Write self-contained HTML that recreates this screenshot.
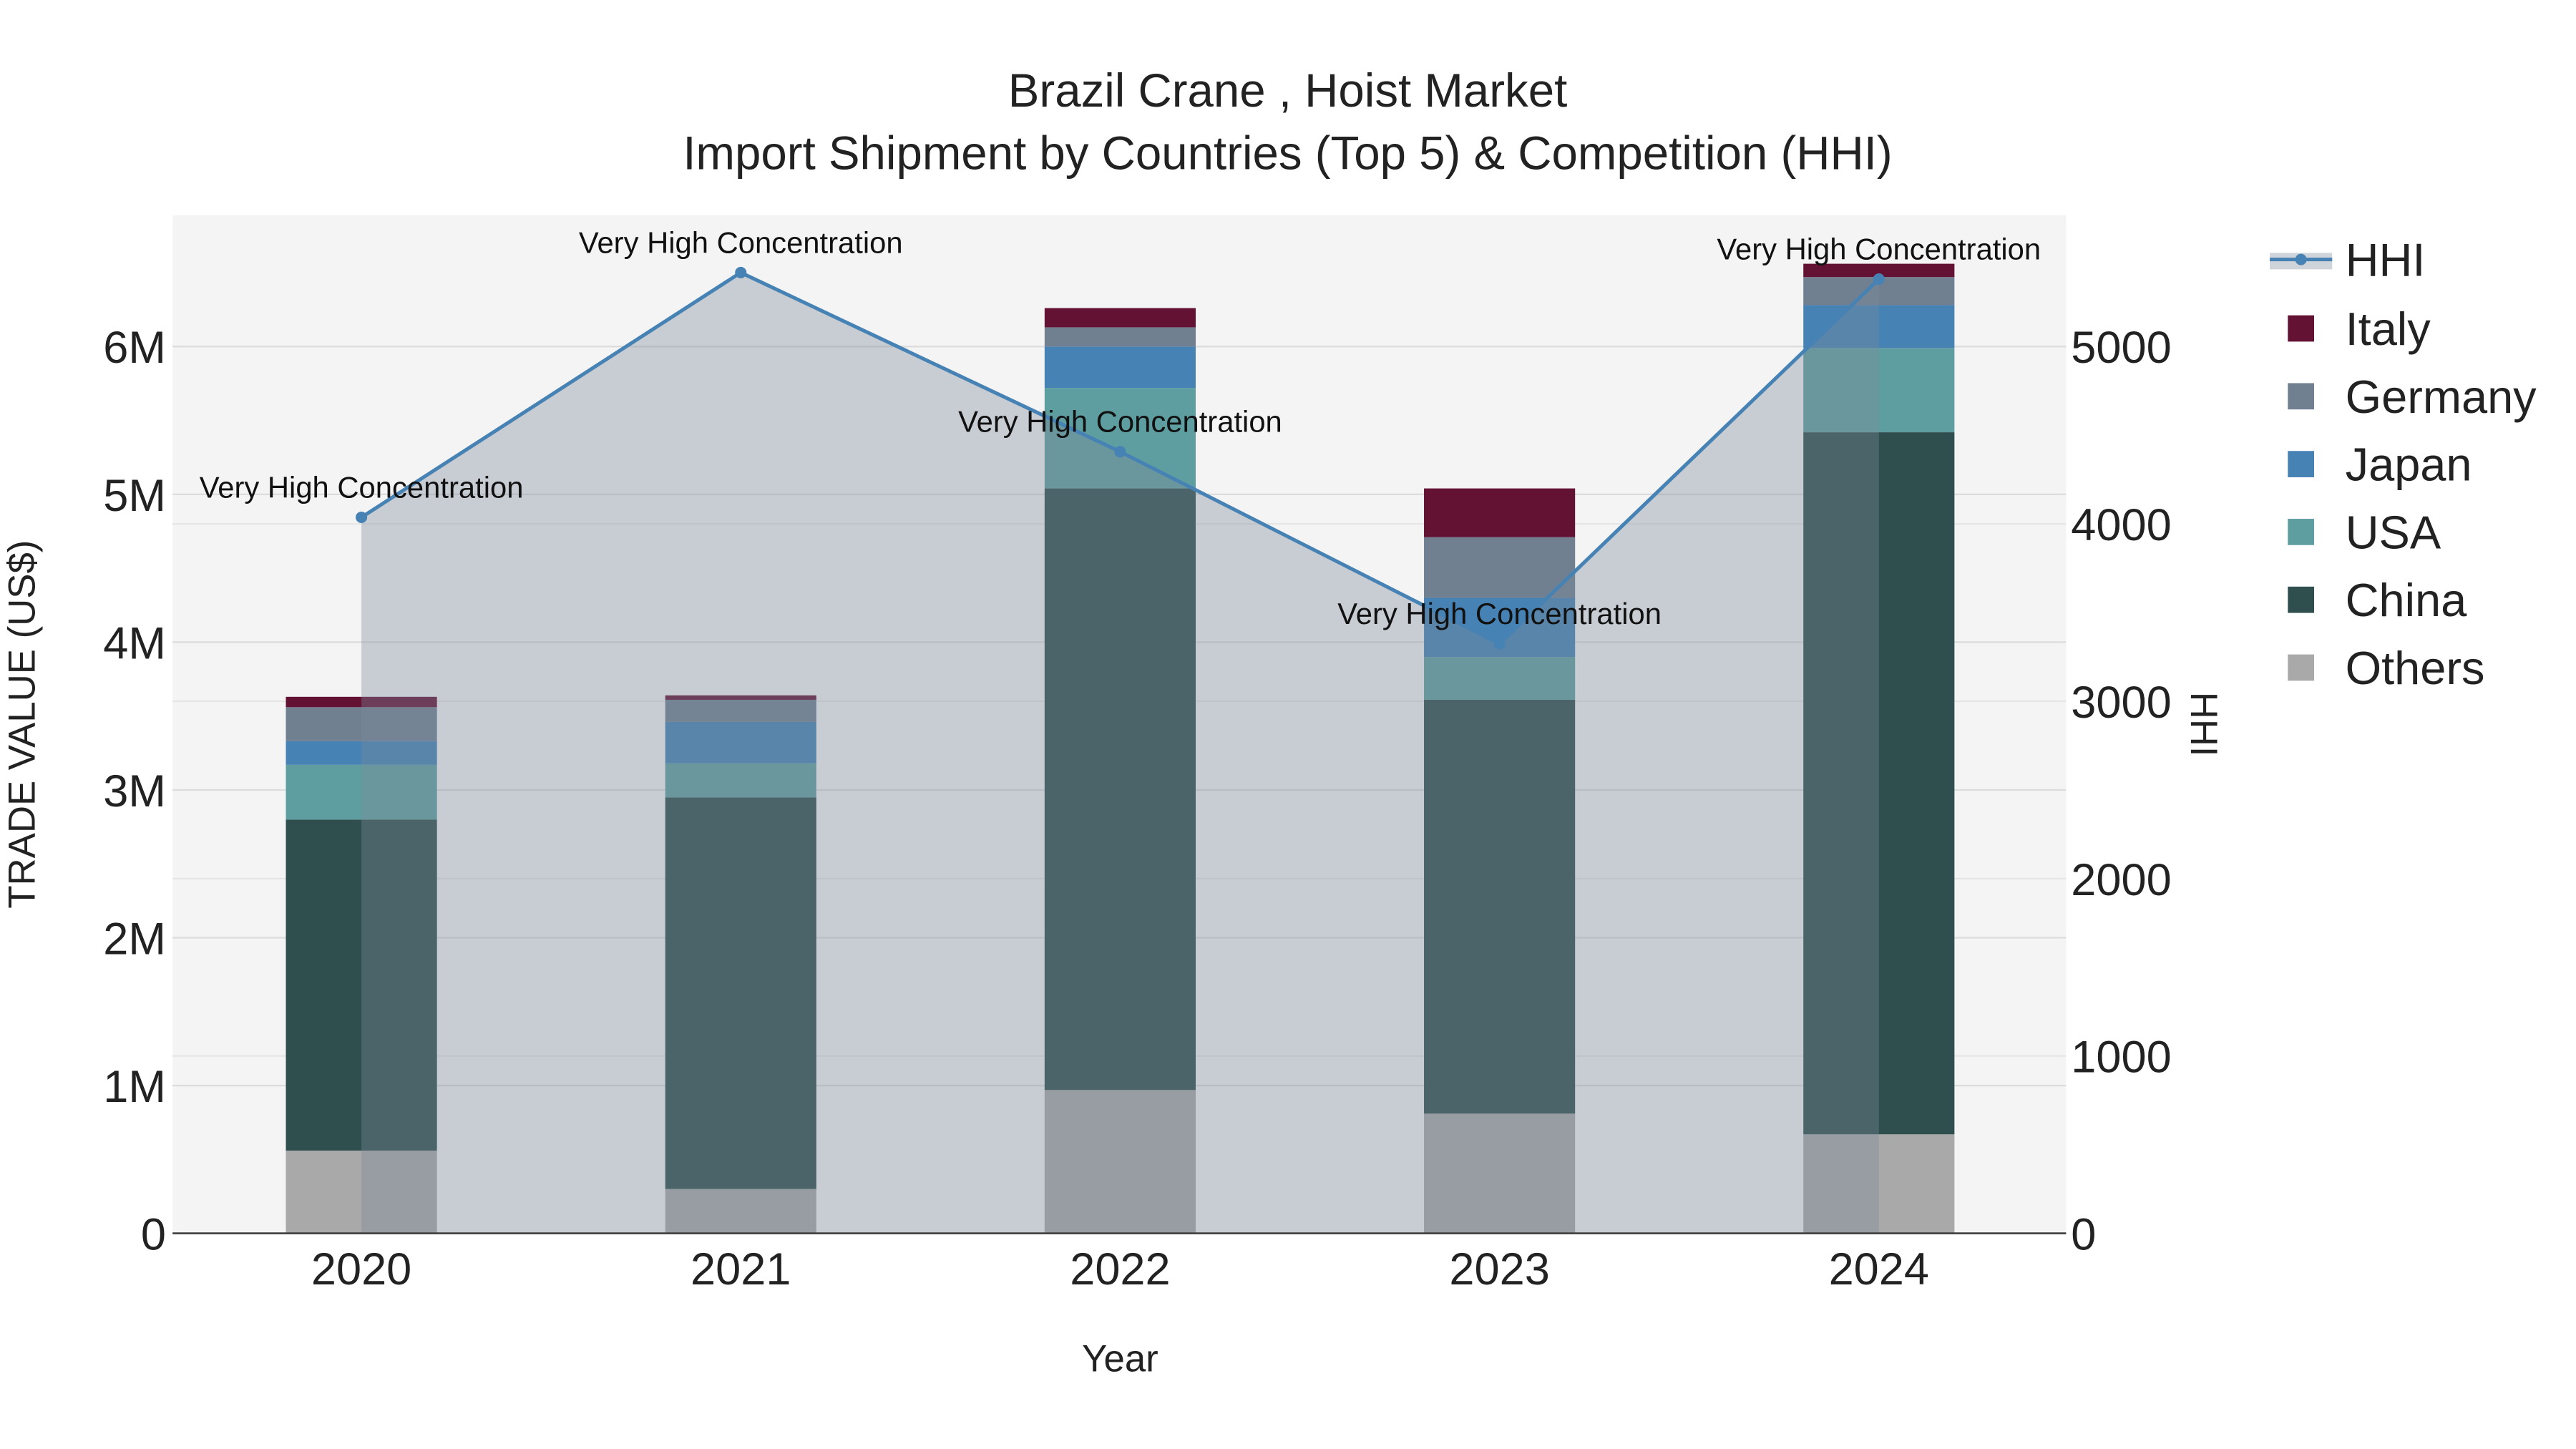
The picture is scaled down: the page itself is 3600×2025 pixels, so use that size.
<!DOCTYPE html>
<html><head><meta charset="utf-8"><style>html,body{margin:0;padding:0;background:#fff}svg{display:block}text{font-family:"Liberation Sans",Arial,sans-serif}</style></head>
<body>
<svg id="chart" width="3600" height="2025" viewBox="0 0 1568.4 882.3" xmlns="http://www.w3.org/2000/svg">
<rect x="0" y="0" width="1600" height="900" fill="#fff"/>
<rect x="105" y="131" width="1153" height="620" fill="#f4f4f4"/>
<g id="grid"></g>
<g id="bars"></g>
<g id="hhi"></g>
<g id="axes"></g>
<text x="784" y="65" text-anchor="middle" font-size="28.5" fill="#222">Brazil Crane , Hoist Market</text>
<text x="784" y="103" text-anchor="middle" font-size="28.5" fill="#222">Import Shipment by Countries (Top 5) &amp; Competition (HHI)</text>
<text x="682" y="835" text-anchor="middle" font-size="23" fill="#222">Year</text>
<text transform="translate(21,441) rotate(-90)" text-anchor="middle" font-size="23" fill="#222">TRADE VALUE (US$)</text>
<text transform="translate(1334,441) rotate(90)" text-anchor="middle" font-size="23" fill="#222">HHI</text>
<g id="legend"></g>
</svg>
<script>
const years = ["2020","2021","2022","2023","2024"];
const seriesNames = ["Others","China","USA","Japan","Germany","Italy"];
const others  = [0.56, 0.30, 0.97, 0.81, 0.67];
const china   = [2.24, 2.65, 4.07, 2.80, 4.75];
const usa     = [0.37, 0.23, 0.68, 0.29, 0.57];
const japan   = [0.16, 0.28, 0.28, 0.40, 0.29];
const germany = [0.23, 0.15, 0.13, 0.41, 0.19];
const italy   = [0.07, 0.03, 0.13, 0.33, 0.09];
const hhi = [4037, 5417, 4407, 3324, 5380];
const hhiLabels = ["Very High Concentration","Very High Concentration","Very High Concentration","Very High Concentration","Very High Concentration"];
const yTicks = [0,1,2,3,4,5,6];
const yTickLabels = ["0","1M","2M","3M","4M","5M","6M"];
const y2Ticks = [0,1000,2000,3000,4000,5000];
const colors = {Others:"#a9a9a9",China:"#2f4f4f",USA:"#5f9ea0",Japan:"#4682b4",Germany:"#708090",Italy:"#641233"};
const NS="http://www.w3.org/2000/svg";
const X0=105,X1=1258,Y0=751,YT=131;
const xs = i => 220 + i*231;
const ys = v => Y0 - v*90;
const y2s = v => Y0 - v*0.108;
function mk(tag, attrs, parent){const e=document.createElementNS(NS,tag);for(const k in attrs)e.setAttribute(k,attrs[k]);parent.appendChild(e);return e;}
const grid=document.getElementById('grid'),bars=document.getElementById('bars'),hg=document.getElementById('hhi'),axes=document.getElementById('axes'),lg=document.getElementById('legend');
y2Ticks.forEach(t=>{if(t===0)return;const l=mk('line',{x1:X0,x2:X1,y1:y2s(t),y2:y2s(t),stroke:"#e6e6e6","stroke-width":1},grid);

});
yTicks.forEach((t,i)=>{if(t>0){const l=mk('line',{x1:X0,x2:X1,y1:ys(t),y2:ys(t),stroke:"#dcdcdc","stroke-width":1},grid);

}
const tx=mk('text',{x:101,y:ys(t)+10,"text-anchor":"end","font-size":27.5,fill:"#222"},axes);tx.textContent=yTickLabels[i];

});
y2Ticks.forEach(t=>{const tx=mk('text',{x:1261,y:y2s(t)+10,"font-size":27.5,fill:"#222"},axes);tx.textContent=String(t);

});
const data={Others:others,China:china,USA:usa,Japan:japan,Germany:germany,Italy:italy};
years.forEach((yr,i)=>{let base=0;seriesNames.forEach(s=>{const v=data[s][i];const r=mk('rect',{x:xs(i)-46,width:92,y:ys(base+v),height:ys(base)-ys(base+v),fill:colors[s]},bars);

base+=v;});
const tx=mk('text',{x:xs(i),y:782,"text-anchor":"middle","font-size":27.5,fill:"#222"},axes);tx.textContent=yr;

});
mk('line',{x1:X0,x2:X1,y1:Y0,y2:Y0,stroke:"#444","stroke-width":1.2},axes);
let pts=hhi.map((v,i)=>xs(i)+","+y2s(v)).join(" ");
const area=mk('polygon',{points:xs(0)+","+Y0+" "+pts+" "+xs(hhi.length-1)+","+Y0,fill:"rgba(126,137,155,0.37)"},hg);


const line=mk('polyline',{points:pts,fill:"none",stroke:"#4682b4","stroke-width":2.2},hg);


hhi.forEach((v,i)=>{const c=mk('circle',{cx:xs(i),cy:y2s(v),r:3.5,fill:"#4682b4"},hg);


const t=mk('text',{x:xs(i),y:y2s(v)-12,"text-anchor":"middle","font-size":18.2,fill:"#111"},hg);t.textContent=hhiLabels[i];

});
// legend
const lr=mk('rect',{x:1382,y:154,width:38,height:10,fill:"rgba(126,137,155,0.37)"},lg);


mk('line',{x1:1382,x2:1420,y1:158,y2:158,stroke:"#4682b4","stroke-width":2.2},lg);
mk('circle',{cx:1401,cy:158,r:3.5,fill:"#4682b4"},lg);
const lt=mk('text',{x:1428,y:168,"font-size":28.3,fill:"#222"},lg);lt.textContent="HHI";


["Italy","Germany","Japan","USA","China","Others"].forEach((s,k)=>{const yy=200+k*41.3;
const sw=mk('rect',{x:1393,y:yy-8,width:16,height:16,fill:colors[s]},lg);


const t=mk('text',{x:1428,y:yy+10,"font-size":28.3,fill:"#222"},lg);t.textContent=s;

});
</script>
</body></html>
